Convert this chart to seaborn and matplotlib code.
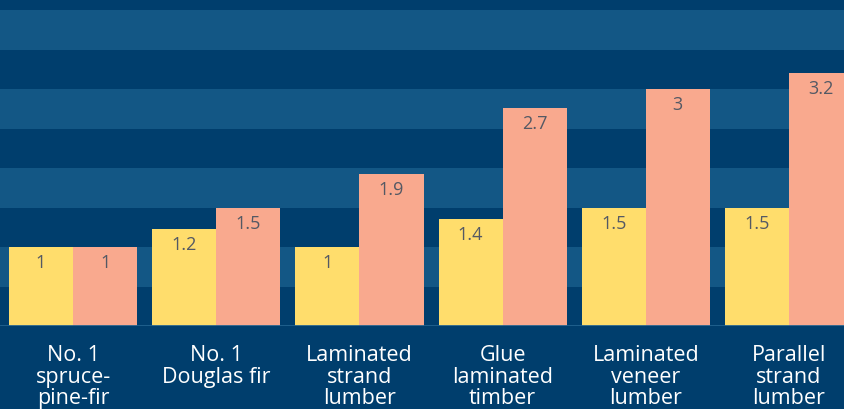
import matplotlib
matplotlib.use("Agg")
import matplotlib.pyplot as plt
import seaborn as sns
import pandas as pd

categories = ["No. 1\nspruce-\npine-fir", "No. 1\nDouglas fir", "Laminated\nstrand\nlumber",
              "Glue\nlaminated\ntimber", "Laminated\nveneer\nlumber", "Parallel\nstrand\nlumber"]
series_names = ["Stiffness", "Strength"]
# bar heights
stiffness = [1, 1.23, 1, 1.36, 1.5, 1.5]
strength = [1, 1.5, 1.92, 2.76, 3, 3.21]
# labels as printed on the bars
stiffness_labels = ["1", "1.2", "1", "1.4", "1.5", "1.5"]
strength_labels = ["1", "1.5", "1.9", "2.7", "3", "3.2"]

df = pd.DataFrame({
    "category": categories * 2,
    "series": [series_names[0]] * len(categories) + [series_names[1]] * len(categories),
    "value": stiffness + strength,
})
label_map = {series_names[0]: stiffness_labels, series_names[1]: strength_labels}

DARK = "#003e6d"
LIGHT = "#135785"
YELLOW = "#ffdd6c"
SALMON = "#f9a98e"

sns.set_theme(style="white")
plt.rcParams["font.family"] = ["Open Sans", "DejaVu Sans"]

fig = plt.figure(figsize=(8.44, 4.09), dpi=100, facecolor=DARK)
ax = fig.add_axes([0, 83 / 409, 1, 326 / 409])
ax.set_facecolor(DARK)

for lo in [0.5, 1.5, 2.5, 3.5]:
    ax.axhspan(lo, lo + 0.5, color=LIGHT, zorder=0, lw=0)

sns.barplot(data=df, x="category", y="value", hue="series", order=categories,
            hue_order=series_names, palette=[YELLOW, SALMON], width=0.895,
            saturation=1, legend=False, ax=ax, zorder=2, linewidth=0)

ax.axhline(0, color="#22628f", lw=2, zorder=3)

for cont, name in zip(ax.containers, series_names):
    for patch, lab in zip(cont.patches, label_map[name]):
        x = patch.get_x() + patch.get_width() / 2
        h = patch.get_height()
        ax.annotate(lab, (x, h), xytext=(0, -16), textcoords="offset pixels",
                    ha="center", va="center", fontsize=13, color="#545964", zorder=4)

ax.set_xlim(-0.51, 5.384)
ax.set_ylim(0, 4.13)
ax.set_yticks([])
ax.set_xlabel("")
ax.set_ylabel("")
ax.tick_params(axis="x", length=0, pad=14, labelsize=15.5, labelcolor="white")
for lbl in ax.get_xticklabels():
    lbl.set_linespacing(1.03)
for s in ax.spines.values():
    s.set_visible(False)

fig.savefig("out.png", dpi=100, facecolor=DARK)
